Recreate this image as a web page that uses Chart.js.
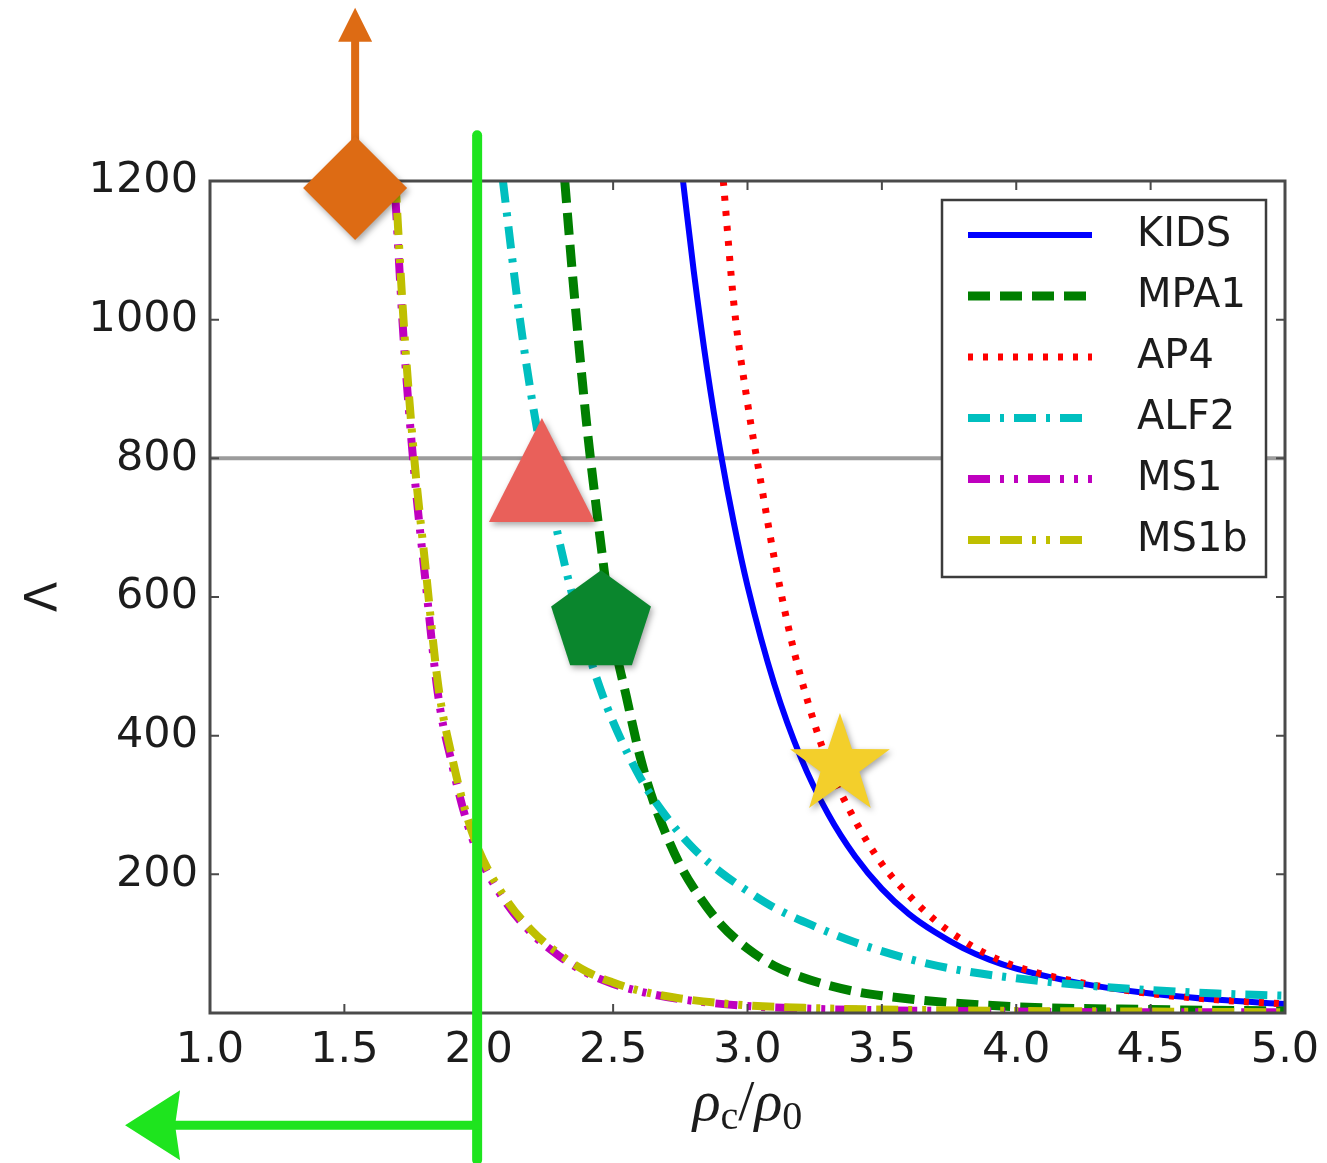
<!DOCTYPE html>
<html>
<head>
<meta charset="utf-8">
<script src="https://cdn.jsdelivr.net/npm/chart.js@4.4.1/dist/chart.umd.min.js"></script>
<style>
  html, body { margin: 0; padding: 0; background: #fff; }
  #wrap { width: 1327px; height: 1163px; }
</style>
</head>
<body>
<div id="wrap"><canvas id="lambdaChart" width="1327" height="1163"></canvas></div>
<script>
// Tidal deformability Lambda against central density rho_c / rho_0
const kidsRho = [2.76, 2.80, 2.85, 2.90, 2.95, 3.00, 3.10, 3.20, 3.30, 3.40, 3.50, 3.60, 3.70, 3.80, 3.90, 4.00, 4.25, 4.50, 4.75, 5.00];
const kidsLambda = [1200, 1070, 928, 808, 705, 616, 474, 367, 287, 226, 179, 143, 116, 94, 77, 64, 42, 28, 19, 13];

const mpa1Rho = [2.32, 2.35, 2.40, 2.45, 2.50, 2.55, 2.60, 2.65, 2.70, 2.75, 2.80, 2.90, 3.00, 3.10, 3.20, 3.30, 3.40, 3.50, 3.75, 4.00, 4.50, 5.00];
const mpa1Lambda = [1200, 1060, 855, 690, 545, 455, 370, 305, 255, 213, 180, 128, 93, 68, 52, 40, 31, 25, 15, 9, 5, 3];

const ap4Rho = [2.91, 2.95, 3.00, 3.05, 3.10, 3.15, 3.20, 3.30, 3.40, 3.50, 3.60, 3.70, 3.80, 3.90, 4.00, 4.25, 4.50, 4.75, 5.00];
const ap4Lambda = [1200, 1020, 880, 765, 655, 560, 482, 360, 278, 215, 170, 133, 105, 83, 67, 43, 28, 19, 13];

const alf2Rho = [2.09, 2.15, 2.20, 2.25, 2.30, 2.35, 2.40, 2.45, 2.50, 2.60, 2.70, 2.80, 2.90, 3.00, 3.10, 3.25, 3.40, 3.60, 3.80, 4.00, 4.25, 4.50, 4.75, 5.00];
const alf2Lambda = [1200, 1010, 880, 775, 680, 600, 530, 470, 420, 340, 282, 237, 203, 176, 152, 125, 102, 78, 61, 50, 40, 33, 28, 25];

const ms1Rho = [1.69, 1.72, 1.76, 1.80, 1.85, 1.90, 1.95, 2.00, 2.10, 2.20, 2.30, 2.40, 2.50, 2.60, 2.75, 3.00, 3.25, 3.50, 4.00, 4.50, 5.00];
const ms1Lambda = [1175, 975, 780, 630, 455, 360, 283, 228, 160, 114, 82, 58, 42, 31, 20, 10, 6, 4, 2, 1, 1];

const ms1bRho = [1.69, 1.72, 1.76, 1.80, 1.85, 1.90, 1.95, 2.00, 2.10, 2.20, 2.30, 2.40, 2.50, 2.60, 2.75, 3.00, 3.25, 3.50, 4.00, 4.50, 5.00];
const ms1bLambda = [1200, 1000, 800, 650, 470, 370, 292, 235, 165, 118, 85, 60, 44, 32, 21, 11, 7, 5, 3, 2, 1];

const eosNames = ['KIDS', 'MPA1', 'AP4', 'ALF2', 'MS1', 'MS1b'];
const xTicks = [1.0, 1.5, 2.0, 2.5, 3.0, 3.5, 4.0, 4.5, 5.0];
const yTicks = [200, 400, 600, 800, 1000, 1200];
const refLambda = 800;

// annotation anchors in data units
const diamondAt = [1.54, 1190];
const upArrowTop = [1.54, 1450];
const triangleAt = [2.235, 783];
const pentagonAt = [2.455, 563];
const starAt = [3.344, 357];
const limitRho = 1.994;
const limitSpan = [1266, -212];
const leftArrow = [0.684, -162];

const pts = (xs, ys) => xs.map((x, i) => ({ x: x, y: ys[i] }));

const tickFont = { family: 'DejaVu Sans', size: 43 };
const textCol = '#1c1c1c';

const styles = [
  { color: '#0000ff', width: 6, dash: [] },
  { color: '#007f00', width: 9, dash: [22, 10] },
  { color: '#ff0000', width: 7, dash: [5, 10] },
  { color: '#00bfbf', width: 8, dash: [22, 10, 4, 10] },
  { color: '#bf00bf', width: 8, dash: [22, 10, 4, 10, 4, 10] },
  { color: '#bfbf00', width: 8, dash: [22, 10, 22, 10, 4, 10, 4, 10] }
];

const series = [
  pts(kidsRho, kidsLambda),
  pts(mpa1Rho, mpa1Lambda),
  pts(ap4Rho, ap4Lambda),
  pts(alf2Rho, alf2Lambda),
  pts(ms1Rho, ms1Lambda),
  pts(ms1bRho, ms1bLambda)
];

const datasets = series.map((d, i) => ({
  label: eosNames[i],
  data: d,
  borderColor: styles[i].color,
  borderWidth: styles[i].width,
  borderDash: styles[i].dash,
  borderCapStyle: 'butt',
  fill: false,
  pointRadius: 0,
  cubicInterpolationMode: 'monotone',
  order: eosNames.length - i
}));

function withShadow(ctx, fn) {
  ctx.save();
  ctx.shadowColor = 'rgba(0,0,0,0.35)';
  ctx.shadowBlur = 6;
  ctx.shadowOffsetX = 2;
  ctx.shadowOffsetY = 3;
  fn();
  ctx.restore();
}

const decorPlugin = {
  id: 'decor',
  beforeDatasetsDraw(chart) {
    const { ctx, chartArea: a, scales: { y } } = chart;
    const py = y.getPixelForValue(refLambda);
    ctx.save();
    ctx.strokeStyle = '#9c9c9c';
    ctx.lineWidth = 4;
    ctx.beginPath();
    ctx.moveTo(a.left, py);
    ctx.lineTo(a.right, py);
    ctx.stroke();
    ctx.restore();
  },
  afterDatasetsDraw(chart) {
    const { ctx, chartArea: a, scales: { x, y } } = chart;
    ctx.save();
    // frame and inward ticks on all four sides
    ctx.strokeStyle = '#4a4a4a';
    ctx.lineWidth = 3;
    ctx.strokeRect(a.left, a.top, a.right - a.left, a.bottom - a.top);
    ctx.lineWidth = 2;
    const tl = 9;
    ctx.beginPath();
    xTicks.forEach(v => {
      const px = x.getPixelForValue(v);
      ctx.moveTo(px, a.bottom); ctx.lineTo(px, a.bottom - tl);
      ctx.moveTo(px, a.top); ctx.lineTo(px, a.top + tl);
    });
    [0].concat(yTicks).forEach(v => {
      const py = y.getPixelForValue(v);
      ctx.moveTo(a.left, py); ctx.lineTo(a.left + tl, py);
      ctx.moveTo(a.right, py); ctx.lineTo(a.right - tl, py);
    });
    ctx.stroke();

    // legend box
    const lw = 324, lh = 377;
    const lx = a.right - 19 - lw, ly = a.top + 19;
    ctx.fillStyle = '#ffffff';
    ctx.fillRect(lx, ly, lw, lh);
    ctx.strokeStyle = '#3c3c3c';
    ctx.lineWidth = 2.5;
    ctx.strokeRect(lx, ly, lw, lh);
    ctx.font = '40px "DejaVu Sans"';
    ctx.textBaseline = 'middle';
    ctx.textAlign = 'left';
    chart.data.datasets.forEach((ds, i) => {
      const ry = ly + 35 + i * 61;
      ctx.save();
      ctx.strokeStyle = ds.borderColor;
      ctx.lineWidth = ds.borderWidth;
      ctx.setLineDash(ds.borderDash);
      ctx.beginPath();
      ctx.moveTo(lx + 26, ry);
      ctx.lineTo(lx + 150, ry);
      ctx.stroke();
      ctx.restore();
      ctx.fillStyle = textCol;
      ctx.fillText(ds.label, lx + 195, ry + 1);
    });

    // axis titles
    ctx.fillStyle = textCol;
    ctx.save();
    ctx.translate(46, (a.top + a.bottom) / 2);
    ctx.rotate(-Math.PI / 2);
    ctx.font = '44px "DejaVu Sans"';
    ctx.textAlign = 'center';
    ctx.textBaseline = 'middle';
    ctx.fillText('Λ', 0, 0);
    ctx.restore();

    const parts = [
      { t: 'ρ', f: 'italic 58px "Liberation Serif"', dy: 0 },
      { t: 'c', f: '40px "Liberation Serif"', dy: 9 },
      { t: '/', f: '58px "Liberation Serif"', dy: 0 },
      { t: 'ρ', f: 'italic 58px "Liberation Serif"', dy: 0 },
      { t: '0', f: '40px "Liberation Serif"', dy: 9 }
    ];
    let total = 0;
    parts.forEach(p => { ctx.font = p.f; total += ctx.measureText(p.t).width; });
    let cx = (a.left + a.right) / 2 - total / 2;
    const base = 1120;
    ctx.textAlign = 'left';
    ctx.textBaseline = 'alphabetic';
    parts.forEach(p => {
      ctx.font = p.f;
      ctx.fillText(p.t, cx, base + p.dy);
      cx += ctx.measureText(p.t).width;
    });
    ctx.restore();
  },
  afterDraw(chart) {
    const { ctx, scales: { x, y } } = chart;
    const X = v => x.getPixelForValue(v);
    const Y = v => y.getPixelForValue(v);
    ctx.save();

    // density limit line with leftward arrow
    const lime = '#1ee41e';
    const gx = X(limitRho);
    ctx.strokeStyle = lime;
    ctx.fillStyle = lime;
    ctx.lineWidth = 10;
    ctx.lineCap = 'round';
    ctx.beginPath();
    ctx.moveTo(gx, Y(limitSpan[0]));
    ctx.lineTo(gx, Y(limitSpan[1]));
    ctx.stroke();
    const ay = Y(leftArrow[1]);
    const tipX = X(leftArrow[0]);
    ctx.lineWidth = 9;
    ctx.beginPath();
    ctx.moveTo(gx, ay);
    ctx.lineTo(tipX + 40, ay);
    ctx.stroke();
    ctx.beginPath();
    ctx.moveTo(tipX, ay);
    ctx.lineTo(tipX + 55, ay - 35);
    ctx.lineTo(tipX + 50, ay);
    ctx.lineTo(tipX + 55, ay + 35);
    ctx.closePath();
    ctx.fill();

    // orange upward arrow and diamond
    const orange = '#dd6b14';
    const dx = X(diamondAt[0]), dy = Y(diamondAt[1]);
    const topY = Y(upArrowTop[1]);
    ctx.fillStyle = orange;
    ctx.fillRect(dx - 4, topY + 32, 8, dy - topY - 32);
    ctx.beginPath();
    ctx.moveTo(dx, topY);
    ctx.lineTo(dx + 17, topY + 34);
    ctx.lineTo(dx - 17, topY + 34);
    ctx.closePath();
    ctx.fill();
    withShadow(ctx, () => {
      ctx.fillStyle = orange;
      ctx.beginPath();
      ctx.moveTo(dx, dy - 52);
      ctx.lineTo(dx + 52, dy);
      ctx.lineTo(dx, dy + 52);
      ctx.lineTo(dx - 52, dy);
      ctx.closePath();
      ctx.fill();
    });

    // triangle
    const tx = X(triangleAt[0]), ty = Y(triangleAt[1]);
    withShadow(ctx, () => {
      ctx.fillStyle = '#e9605a';
      ctx.beginPath();
      ctx.moveTo(tx, ty - 52);
      ctx.lineTo(tx + 53, ty + 52);
      ctx.lineTo(tx - 53, ty + 52);
      ctx.closePath();
      ctx.fill();
    });

    // pentagon and star
    const polygon = (cx, cy, rOut, rIn, n) => {
      ctx.beginPath();
      const steps = rIn ? n * 2 : n;
      for (let k = 0; k < steps; k++) {
        const r = rIn && k % 2 ? rIn : rOut;
        const ang = -Math.PI / 2 + k * 2 * Math.PI / steps;
        const px = cx + r * Math.cos(ang), py = cy + r * Math.sin(ang);
        if (k === 0) ctx.moveTo(px, py); else ctx.lineTo(px, py);
      }
      ctx.closePath();
      ctx.fill();
    };
    withShadow(ctx, () => {
      ctx.fillStyle = '#0a862d';
      polygon(X(pentagonAt[0]), Y(pentagonAt[1]), 52.5, 0, 5);
    });
    withShadow(ctx, () => {
      ctx.fillStyle = '#f3cf2b';
      polygon(X(starAt[0]), Y(starAt[1]), 52.5, 20.5, 5);
    });
    ctx.restore();
  }
};

new Chart(document.getElementById('lambdaChart'), {
  type: 'line',
  data: { datasets: datasets },
  options: {
    responsive: false,
    animation: false,
    devicePixelRatio: 1,
    layout: { padding: { top: 181, right: 42, left: 0, bottom: 0 } },
    plugins: { legend: { display: false }, tooltip: { enabled: false } },
    scales: {
      x: {
        type: 'linear',
        min: 1,
        max: 5,
        afterFit: s => { s.height = 150; s.paddingLeft = 0; s.paddingRight = 0; },
        afterBuildTicks: s => { s.ticks = xTicks.map(v => ({ value: v })); },
        grid: { display: false, drawTicks: false },
        border: { display: false },
        ticks: { font: tickFont, color: textCol, padding: 12, maxRotation: 0, autoSkip: false,
                 callback: v => v.toFixed(1) }
      },
      y: {
        type: 'linear',
        min: 0,
        max: 1200,
        afterFit: s => { s.width = 210; s.paddingTop = 0; s.paddingBottom = 0; },
        afterBuildTicks: s => { s.ticks = yTicks.map(v => ({ value: v })); },
        grid: { display: false, drawTicks: false },
        border: { display: false },
        ticks: { font: tickFont, color: textCol, padding: 12, autoSkip: false,
                 callback: v => String(v) }
      }
    }
  },
  plugins: [decorPlugin]
});
</script>
</body>
</html>
